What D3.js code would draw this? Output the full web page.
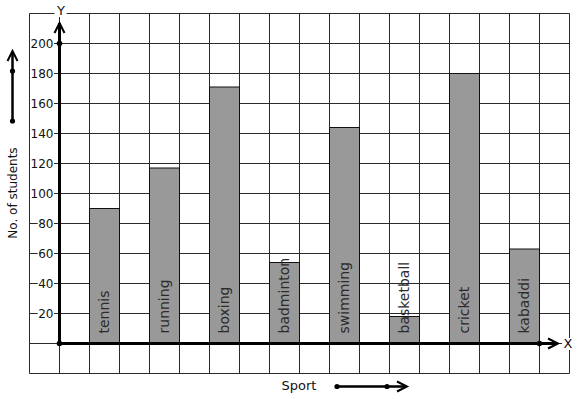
<!DOCTYPE html>
<html><head><meta charset="utf-8">
<script src="https://cdn.jsdelivr.net/npm/d3@7"></script>
<style>html,body{margin:0;padding:0;background:#fff;}svg{display:block;}</style>
</head><body>
<svg id="c" width="577" height="399"></svg>
<script>
const sports = ["tennis","running","boxing","badminton","swimming","basketball","cricket","kabaddi"];
const students = [90, 117, 171, 54, 144, 18, 180, 63];
const yTicks = [20,40,60,80,100,120,140,160,180,200];
const yTitle = "No. of students";
const xTitle = "Sport";

const svg = d3.select("#c");
const font = "DejaVu Sans, sans-serif";
// grid cells: x cell index -1..17, value -20..220
const xc = d3.scaleLinear().domain([-1,17]).range([29.5,569.5]);
const y = d3.scaleLinear().domain([0,200]).range([343.5,43.5]);
const gridColor = "#2a2a2a";

const g = svg.append("g");
// grid
d3.range(-1,18).forEach(i=>{
  g.append("line").attr("x1",xc(i)).attr("x2",xc(i)).attr("y1",y(220)).attr("y2",y(-20))
   .attr("stroke",gridColor).attr("stroke-width",1);
});
d3.range(-20,221,20).forEach(v=>{
  g.append("line").attr("x1",xc(-1)).attr("x2",xc(17)).attr("y1",y(v)).attr("y2",y(v))
   .attr("stroke",gridColor).attr("stroke-width",1);
});

// bars
const cw = xc(1)-xc(0);
const bars = svg.append("g").selectAll("g").data(sports).join("g");
bars.append("rect")
  .attr("x",(d,i)=>xc(1+2*i)).attr("width",cw)
  .attr("y",(d,i)=>y(students[i])).attr("height",(d,i)=>y(0)-y(students[i]))
  .attr("fill","#999999").attr("stroke","#111").attr("stroke-width",1);
bars.append("text")
  .attr("transform",(d,i)=>`translate(${xc(1+2*i)+cw/2+4.5},${y(0)-10}) rotate(-90)`)
  .attr("font-family",font).attr("font-size",14).attr("fill","#2b2b2b")
  .attr("text-anchor","start").text(d=>d);

// y tick labels with white background
const tl = svg.append("g");
yTicks.forEach(v=>{
  const t = tl.append("text").attr("x",53.5).attr("y",y(v)).attr("dy","0.36em")
    .attr("text-anchor","end").attr("font-family",font).attr("font-size",12)
    .attr("fill","#111").text(v);
  const b = t.node().getBBox();
  tl.insert("rect",()=>t.node()).attr("x",b.x-0.5).attr("y",b.y+1).attr("width",b.width+1).attr("height",b.height-2).attr("fill","#fff");
});

// axes
const ax = svg.append("g").attr("stroke","#000").attr("fill","none");
ax.append("line").attr("x1",xc(0)).attr("x2",xc(0)).attr("y1",y(0)+1).attr("y2",23).attr("stroke-width",3);
ax.append("polyline").attr("points",`${xc(0)-5},33 ${xc(0)},23 ${xc(0)+5},33`).attr("stroke-width",2);
ax.append("line").attr("x1",xc(0)-1).attr("x2",557).attr("y1",y(0)).attr("y2",y(0)).attr("stroke-width",3);
ax.append("polyline").attr("points",`548,${y(0)-5} 558,${y(0)} 548,${y(0)+5}`).attr("stroke-width",2);
svg.append("circle").attr("cx",xc(0)).attr("cy",y(0)).attr("r",2.8).attr("fill","#000");
svg.append("circle").attr("cx",xc(0)).attr("cy",y(200)).attr("r",2.8).attr("fill","#000");
svg.append("circle").attr("cx",xc(16)).attr("cy",y(0)).attr("r",2.8).attr("fill","#000");

// axis letters with white bg
function bgText(x,yy,txt){
  const grp = svg.append("g");
  const t = grp.append("text").attr("x",x).attr("y",yy).attr("text-anchor","middle")
    .attr("font-family",font).attr("font-size",13).attr("fill","#111").text(txt);
  const b = t.node().getBBox();
  grp.insert("rect",()=>t.node()).attr("x",b.x-1.5).attr("y",b.y+2).attr("width",b.width+3).attr("height",b.height-3).attr("fill","#fff");
}
bgText(61,15,"Y");
bgText(568,348,"X");

// left legend arrow
const la = svg.append("g").attr("stroke","#000").attr("fill","none");
la.append("line").attr("x1",12.5).attr("x2",12.5).attr("y1",121).attr("y2",52).attr("stroke-width",2.5);
la.append("polyline").attr("points","7.5,61 12.5,51 17.5,61").attr("stroke-width",2);
svg.append("circle").attr("cx",12.5).attr("cy",71).attr("r",2.6).attr("fill","#000");
svg.append("circle").attr("cx",12.5).attr("cy",121).attr("r",2.6).attr("fill","#000");

// bottom legend arrow
la.append("line").attr("x1",337).attr("x2",406).attr("y1",386.5).attr("y2",386.5).attr("stroke-width",2.5);
la.append("polyline").attr("points","397,381.5 407,386.5 397,391.5").attr("stroke-width",2);
svg.append("circle").attr("cx",337).attr("cy",386.5).attr("r",2.6).attr("fill","#000");
svg.append("circle").attr("cx",387).attr("cy",386.5).attr("r",2.6).attr("fill","#000");

// titles
svg.append("text").attr("transform","translate(17,193) rotate(-90)").attr("text-anchor","middle")
  .attr("font-family",font).attr("font-size",12).attr("fill","#111").text(yTitle);
svg.append("text").attr("x",299).attr("y",390).attr("text-anchor","middle")
  .attr("font-family",font).attr("font-size",13).attr("fill","#111").text(xTitle);
</script>
</body></html>
